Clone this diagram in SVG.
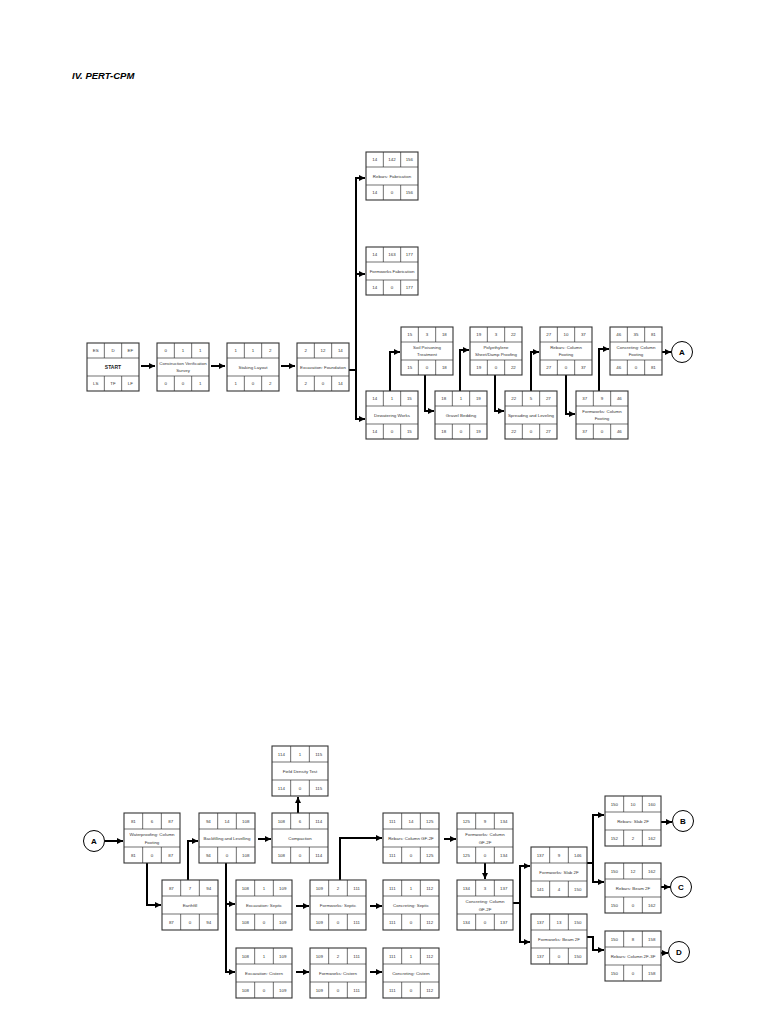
<svg xmlns="http://www.w3.org/2000/svg" xmlns:xlink="http://www.w3.org/1999/xlink" width="768" height="1024" viewBox="0 0 768 1024">
<style>
.bx{fill:#fff;stroke:#333;stroke-width:1.1}
.dv{stroke:#333;stroke-width:0.7}
.t{font-family:"Liberation Sans",Arial,sans-serif;font-size:4.4px;fill:#333;text-anchor:middle}
.tb{font-family:"Liberation Sans",Arial,sans-serif;font-size:5px;font-weight:bold;fill:#222;text-anchor:middle}
.c{fill:none;stroke:#000;stroke-width:2}
.ci{fill:#fff;stroke:#000;stroke-width:1}
.cl{font-family:"Liberation Sans",Arial,sans-serif;font-size:8px;font-weight:bold;fill:#000;text-anchor:middle}
.ttl{font-family:"Liberation Sans",Arial,sans-serif;font-size:9.5px;font-weight:bold;font-style:italic;fill:#000}
</style>
<defs>
<marker id="ah" markerWidth="6" markerHeight="6" refX="6" refY="3" orient="auto" markerUnits="userSpaceOnUse"><path d="M0,0 L6,3 L0,6 z" fill="#000"/></marker>
<g id="fs"><rect class="bx" x="0" y="0" width="52" height="48"/><line class="dv" x1="0" y1="15" x2="52" y2="15"/><line class="dv" x1="0" y1="33" x2="52" y2="33"/><line class="dv" x1="17.33" y1="0" x2="17.33" y2="15"/><line class="dv" x1="34.67" y1="0" x2="34.67" y2="15"/><line class="dv" x1="17.33" y1="33" x2="17.33" y2="48"/><line class="dv" x1="34.67" y1="33" x2="34.67" y2="48"/></g>
<g id="fl"><rect class="bx" x="0" y="0" width="56" height="50"/><line class="dv" x1="0" y1="16" x2="56" y2="16"/><line class="dv" x1="0" y1="34" x2="56" y2="34"/><line class="dv" x1="18.67" y1="0" x2="18.67" y2="16"/><line class="dv" x1="37.33" y1="0" x2="37.33" y2="16"/><line class="dv" x1="18.67" y1="34" x2="18.67" y2="50"/><line class="dv" x1="37.33" y1="34" x2="37.33" y2="50"/></g>
</defs>
<rect width="768" height="1024" fill="#fff"/>
<text class="ttl" x="72" y="79">IV. PERT-CPM</text>

<g id="connectors">
<path class="c" marker-end="url(#ah)" d="M141 366 H155"/>
<path class="c" marker-end="url(#ah)" d="M211 366 H225"/>
<path class="c" marker-end="url(#ah)" d="M281 366 H295"/>
<path class="c" d="M349 370 H356 M356 178 V419"/>
<path class="c" marker-end="url(#ah)" d="M355 178 H365"/>
<path class="c" marker-end="url(#ah)" d="M355 274 H365"/>
<path class="c" marker-end="url(#ah)" d="M355 419 H365"/>
<path class="c" marker-end="url(#ah)" d="M390 391 V352 H400"/>
<path class="c" marker-end="url(#ah)" d="M425 375 V411 H434"/>
<path class="c" marker-end="url(#ah)" d="M460 391 V350 H469"/>
<path class="c" marker-end="url(#ah)" d="M495 375 V411 H504"/>
<path class="c" marker-end="url(#ah)" d="M531 391 V352 H539"/>
<path class="c" marker-end="url(#ah)" d="M566 375 V414 H575"/>
<path class="c" marker-end="url(#ah)" d="M599 391 V349 H609"/>
<path class="c" marker-end="url(#ah)" d="M662 352 H671"/>

<path class="c" marker-end="url(#ah)" d="M105 841 H123"/>
<path class="c" marker-end="url(#ah)" d="M147 863 V905 H161"/>
<path class="c" marker-end="url(#ah)" d="M188 880 V841 H198"/>
<path class="c" marker-end="url(#ah)" d="M258 839 H271"/>
<path class="c" marker-end="url(#ah)" d="M298 813 V797"/>
<path class="c" marker-end="url(#ah)" d="M226 863 V972 H235"/>
<path class="c" marker-end="url(#ah)" d="M225 904 H235"/>
<path class="c" marker-end="url(#ah)" d="M296 906 H309"/>
<path class="c" marker-end="url(#ah)" d="M370 906 H382"/>
<path class="c" marker-end="url(#ah)" d="M340 880 V838 H382"/>
<path class="c" marker-end="url(#ah)" d="M296 972 H309"/>
<path class="c" marker-end="url(#ah)" d="M370 972 H382"/>
<path class="c" marker-end="url(#ah)" d="M444 839 H456"/>
<path class="c" marker-end="url(#ah)" d="M485 863 V879"/>
<path class="c" marker-end="url(#ah)" d="M513 903 H520 V866 H530"/>
<path class="c" marker-end="url(#ah)" d="M520 902 V942 H530"/>
<path class="c" marker-end="url(#ah)" d="M587 863 H593 V815 H604"/>
<path class="c" marker-end="url(#ah)" d="M593 862 V882 H604"/>
<path class="c" marker-end="url(#ah)" d="M587 937 H593 V950 H604"/>
<path class="c" marker-end="url(#ah)" d="M661 822 H672"/>
<path class="c" marker-end="url(#ah)" d="M661 887 H670"/>
<path class="c" marker-end="url(#ah)" d="M661 953 H668"/>
</g>

<g id="n-start" transform="translate(87,343)"><use xlink:href="#fs"/><text class="t" x="8.67" y="9.2">ES</text><text class="t" x="26" y="9.2">D</text><text class="t" x="43.33" y="9.2">EF</text><text class="tb" x="26" y="25.7">START</text><text class="t" x="8.67" y="42">LS</text><text class="t" x="26" y="42">TF</text><text class="t" x="43.33" y="42">LF</text></g>
<g id="n-cvs" transform="translate(157,343)"><use xlink:href="#fs"/><text class="t" x="8.67" y="9.2">0</text><text class="t" x="26" y="9.2">1</text><text class="t" x="43.33" y="9.2">1</text><text class="t" x="26" y="21.8">Construction Verification</text><text class="t" x="26" y="29">Survey</text><text class="t" x="8.67" y="42">0</text><text class="t" x="26" y="42">0</text><text class="t" x="43.33" y="42">1</text></g>
<g id="n-staking" transform="translate(227,343)"><use xlink:href="#fs"/><text class="t" x="8.67" y="9.2">1</text><text class="t" x="26" y="9.2">1</text><text class="t" x="43.33" y="9.2">2</text><text class="t" x="26" y="25.5">Staking Layout</text><text class="t" x="8.67" y="42">1</text><text class="t" x="26" y="42">0</text><text class="t" x="43.33" y="42">2</text></g>
<g id="n-excfound" transform="translate(297,343)"><use xlink:href="#fs"/><text class="t" x="8.67" y="9.2">2</text><text class="t" x="26" y="9.2">12</text><text class="t" x="43.33" y="9.2">14</text><text class="t" x="26" y="25.5">Excavation: Foundation</text><text class="t" x="8.67" y="42">2</text><text class="t" x="26" y="42">0</text><text class="t" x="43.33" y="42">14</text></g>
<g id="n-rebfab" transform="translate(366,152)"><use xlink:href="#fs"/><text class="t" x="8.67" y="9.2">14</text><text class="t" x="26" y="9.2">142</text><text class="t" x="43.33" y="9.2">156</text><text class="t" x="26" y="25.5">Rebars: Fabrication</text><text class="t" x="8.67" y="42">14</text><text class="t" x="26" y="42">0</text><text class="t" x="43.33" y="42">156</text></g>
<g id="n-formfab" transform="translate(366,247)"><use xlink:href="#fs"/><text class="t" x="8.67" y="9.2">14</text><text class="t" x="26" y="9.2">163</text><text class="t" x="43.33" y="9.2">177</text><text class="t" x="26" y="25.5">Formworks Fabrication</text><text class="t" x="8.67" y="42">14</text><text class="t" x="26" y="42">0</text><text class="t" x="43.33" y="42">177</text></g>
<g id="n-soil" transform="translate(401,327)"><use xlink:href="#fs"/><text class="t" x="8.67" y="9.2">15</text><text class="t" x="26" y="9.2">3</text><text class="t" x="43.33" y="9.2">18</text><text class="t" x="26" y="21.8">Soil Poisoning</text><text class="t" x="26" y="29">Treatment</text><text class="t" x="8.67" y="42">15</text><text class="t" x="26" y="42">0</text><text class="t" x="43.33" y="42">18</text></g>
<g id="n-dewater" transform="translate(366,391)"><use xlink:href="#fs"/><text class="t" x="8.67" y="9.2">14</text><text class="t" x="26" y="9.2">1</text><text class="t" x="43.33" y="9.2">15</text><text class="t" x="26" y="25.5">Dewatering Works</text><text class="t" x="8.67" y="42">14</text><text class="t" x="26" y="42">0</text><text class="t" x="43.33" y="42">15</text></g>
<g id="n-poly" transform="translate(470,327)"><use xlink:href="#fs"/><text class="t" x="8.67" y="9.2">19</text><text class="t" x="26" y="9.2">3</text><text class="t" x="43.33" y="9.2">22</text><text class="t" x="26" y="21.8">Polyethylene</text><text class="t" x="26" y="29">Sheet/Damp Proofing</text><text class="t" x="8.67" y="42">19</text><text class="t" x="26" y="42">0</text><text class="t" x="43.33" y="42">22</text></g>
<g id="n-gravel" transform="translate(435,391)"><use xlink:href="#fs"/><text class="t" x="8.67" y="9.2">18</text><text class="t" x="26" y="9.2">1</text><text class="t" x="43.33" y="9.2">19</text><text class="t" x="26" y="25.5">Gravel Bedding</text><text class="t" x="8.67" y="42">18</text><text class="t" x="26" y="42">0</text><text class="t" x="43.33" y="42">19</text></g>
<g id="n-spread" transform="translate(505,391)"><use xlink:href="#fs"/><text class="t" x="8.67" y="9.2">22</text><text class="t" x="26" y="9.2">5</text><text class="t" x="43.33" y="9.2">27</text><text class="t" x="26" y="25.5">Spreading and Leveling</text><text class="t" x="8.67" y="42">22</text><text class="t" x="26" y="42">0</text><text class="t" x="43.33" y="42">27</text></g>
<g id="n-rebcf" transform="translate(540,327)"><use xlink:href="#fs"/><text class="t" x="8.67" y="9.2">27</text><text class="t" x="26" y="9.2">10</text><text class="t" x="43.33" y="9.2">37</text><text class="t" x="26" y="21.8">Rebars: Column</text><text class="t" x="26" y="29">Footing</text><text class="t" x="8.67" y="42">27</text><text class="t" x="26" y="42">0</text><text class="t" x="43.33" y="42">37</text></g>
<g id="n-formcf" transform="translate(576,391)"><use xlink:href="#fs"/><text class="t" x="8.67" y="9.2">37</text><text class="t" x="26" y="9.2">9</text><text class="t" x="43.33" y="9.2">46</text><text class="t" x="26" y="21.8">Formworks: Column</text><text class="t" x="26" y="29">Footing</text><text class="t" x="8.67" y="42">37</text><text class="t" x="26" y="42">0</text><text class="t" x="43.33" y="42">46</text></g>
<g id="n-conccf" transform="translate(610,327)"><use xlink:href="#fs"/><text class="t" x="8.67" y="9.2">46</text><text class="t" x="26" y="9.2">35</text><text class="t" x="43.33" y="9.2">81</text><text class="t" x="26" y="21.8">Concreting: Column</text><text class="t" x="26" y="29">Footing</text><text class="t" x="8.67" y="42">46</text><text class="t" x="26" y="42">0</text><text class="t" x="43.33" y="42">81</text></g>
<g id="n-a1"><circle class="ci" cx="682" cy="352" r="10.5"/><text class="cl" x="682" y="355">A</text></g>

<g id="n-a2"><circle class="ci" cx="94" cy="841" r="10.5"/><text class="cl" x="94" y="844">A</text></g>
<g id="n-waterp" transform="translate(124,813)"><use xlink:href="#fl"/><text class="t" x="9.33" y="9.6">81</text><text class="t" x="28" y="9.6">6</text><text class="t" x="46.67" y="9.6">87</text><text class="t" x="28" y="23">Waterproofing: Column</text><text class="t" x="28" y="30.5">Footing</text><text class="t" x="9.33" y="43.6">81</text><text class="t" x="28" y="43.6">0</text><text class="t" x="46.67" y="43.6">87</text></g>
<g id="n-earth" transform="translate(162,880)"><use xlink:href="#fl"/><text class="t" x="9.33" y="9.6">87</text><text class="t" x="28" y="9.6">7</text><text class="t" x="46.67" y="9.6">94</text><text class="t" x="28" y="26.5">Earthfill</text><text class="t" x="9.33" y="43.6">87</text><text class="t" x="28" y="43.6">0</text><text class="t" x="46.67" y="43.6">94</text></g>
<g id="n-backfill" transform="translate(199,813)"><use xlink:href="#fl"/><text class="t" x="9.33" y="9.6">94</text><text class="t" x="28" y="9.6">14</text><text class="t" x="46.67" y="9.6">108</text><text class="t" x="28" y="26.5">Backfilling and Levelling</text><text class="t" x="9.33" y="43.6">94</text><text class="t" x="28" y="43.6">0</text><text class="t" x="46.67" y="43.6">108</text></g>
<g id="n-compact" transform="translate(272,813)"><use xlink:href="#fl"/><text class="t" x="9.33" y="9.6">108</text><text class="t" x="28" y="9.6">6</text><text class="t" x="46.67" y="9.6">114</text><text class="t" x="28" y="26.5">Compaction</text><text class="t" x="9.33" y="43.6">108</text><text class="t" x="28" y="43.6">0</text><text class="t" x="46.67" y="43.6">114</text></g>
<g id="n-field" transform="translate(272,746)"><use xlink:href="#fl"/><text class="t" x="9.33" y="9.6">114</text><text class="t" x="28" y="9.6">1</text><text class="t" x="46.67" y="9.6">115</text><text class="t" x="28" y="26.5">Field Density Test</text><text class="t" x="9.33" y="43.6">114</text><text class="t" x="28" y="43.6">0</text><text class="t" x="46.67" y="43.6">115</text></g>
<g id="n-excsep" transform="translate(236,880)"><use xlink:href="#fl"/><text class="t" x="9.33" y="9.6">108</text><text class="t" x="28" y="9.6">1</text><text class="t" x="46.67" y="9.6">109</text><text class="t" x="28" y="26.5">Excavation: Septic</text><text class="t" x="9.33" y="43.6">108</text><text class="t" x="28" y="43.6">0</text><text class="t" x="46.67" y="43.6">109</text></g>
<g id="n-formsep" transform="translate(310,880)"><use xlink:href="#fl"/><text class="t" x="9.33" y="9.6">109</text><text class="t" x="28" y="9.6">2</text><text class="t" x="46.67" y="9.6">111</text><text class="t" x="28" y="26.5">Formworks: Septic</text><text class="t" x="9.33" y="43.6">109</text><text class="t" x="28" y="43.6">0</text><text class="t" x="46.67" y="43.6">111</text></g>
<g id="n-concsep" transform="translate(383,880)"><use xlink:href="#fl"/><text class="t" x="9.33" y="9.6">111</text><text class="t" x="28" y="9.6">1</text><text class="t" x="46.67" y="9.6">112</text><text class="t" x="28" y="26.5">Concreting: Septic</text><text class="t" x="9.33" y="43.6">111</text><text class="t" x="28" y="43.6">0</text><text class="t" x="46.67" y="43.6">112</text></g>
<g id="n-exccis" transform="translate(236,948)"><use xlink:href="#fl"/><text class="t" x="9.33" y="9.6">108</text><text class="t" x="28" y="9.6">1</text><text class="t" x="46.67" y="9.6">109</text><text class="t" x="28" y="26.5">Excavation: Cistern</text><text class="t" x="9.33" y="43.6">108</text><text class="t" x="28" y="43.6">0</text><text class="t" x="46.67" y="43.6">109</text></g>
<g id="n-formcis" transform="translate(310,948)"><use xlink:href="#fl"/><text class="t" x="9.33" y="9.6">109</text><text class="t" x="28" y="9.6">2</text><text class="t" x="46.67" y="9.6">111</text><text class="t" x="28" y="26.5">Formworks: Cistern</text><text class="t" x="9.33" y="43.6">109</text><text class="t" x="28" y="43.6">0</text><text class="t" x="46.67" y="43.6">111</text></g>
<g id="n-conccis" transform="translate(383,948)"><use xlink:href="#fl"/><text class="t" x="9.33" y="9.6">111</text><text class="t" x="28" y="9.6">1</text><text class="t" x="46.67" y="9.6">112</text><text class="t" x="28" y="26.5">Concreting: Cistern</text><text class="t" x="9.33" y="43.6">111</text><text class="t" x="28" y="43.6">0</text><text class="t" x="46.67" y="43.6">112</text></g>
<g id="n-rebgf" transform="translate(383,813)"><use xlink:href="#fl"/><text class="t" x="9.33" y="9.6">111</text><text class="t" x="28" y="9.6">14</text><text class="t" x="46.67" y="9.6">125</text><text class="t" x="28" y="26.5">Rebars: Column GF-2F</text><text class="t" x="9.33" y="43.6">111</text><text class="t" x="28" y="43.6">0</text><text class="t" x="46.67" y="43.6">125</text></g>
<g id="n-formgf" transform="translate(457,813)"><use xlink:href="#fl"/><text class="t" x="9.33" y="9.6">125</text><text class="t" x="28" y="9.6">9</text><text class="t" x="46.67" y="9.6">134</text><text class="t" x="28" y="23">Formworks: Column</text><text class="t" x="28" y="30.5">GF-2F</text><text class="t" x="9.33" y="43.6">125</text><text class="t" x="28" y="43.6">0</text><text class="t" x="46.67" y="43.6">134</text></g>
<g id="n-concgf" transform="translate(457,880)"><use xlink:href="#fl"/><text class="t" x="9.33" y="9.6">134</text><text class="t" x="28" y="9.6">3</text><text class="t" x="46.67" y="9.6">137</text><text class="t" x="28" y="23">Concreting: Column</text><text class="t" x="28" y="30.5">GF-2F</text><text class="t" x="9.33" y="43.6">134</text><text class="t" x="28" y="43.6">0</text><text class="t" x="46.67" y="43.6">137</text></g>
<g id="n-formslab" transform="translate(531,847)"><use xlink:href="#fl"/><text class="t" x="9.33" y="9.6">137</text><text class="t" x="28" y="9.6">9</text><text class="t" x="46.67" y="9.6">146</text><text class="t" x="28" y="26.5">Formworks: Slab 2F</text><text class="t" x="9.33" y="43.6">141</text><text class="t" x="28" y="43.6">4</text><text class="t" x="46.67" y="43.6">150</text></g>
<g id="n-formbeam" transform="translate(531,914)"><use xlink:href="#fl"/><text class="t" x="9.33" y="9.6">137</text><text class="t" x="28" y="9.6">13</text><text class="t" x="46.67" y="9.6">150</text><text class="t" x="28" y="26.5">Formworks: Beam 2F</text><text class="t" x="9.33" y="43.6">137</text><text class="t" x="28" y="43.6">0</text><text class="t" x="46.67" y="43.6">150</text></g>
<g id="n-rebslab" transform="translate(605,796)"><use xlink:href="#fl"/><text class="t" x="9.33" y="9.6">150</text><text class="t" x="28" y="9.6">10</text><text class="t" x="46.67" y="9.6">160</text><text class="t" x="28" y="26.5">Rebars: Slab 2F</text><text class="t" x="9.33" y="43.6">152</text><text class="t" x="28" y="43.6">2</text><text class="t" x="46.67" y="43.6">162</text></g>
<g id="n-rebbeam" transform="translate(605,863)"><use xlink:href="#fl"/><text class="t" x="9.33" y="9.6">150</text><text class="t" x="28" y="9.6">12</text><text class="t" x="46.67" y="9.6">162</text><text class="t" x="28" y="26.5">Rebars: Beam 2F</text><text class="t" x="9.33" y="43.6">150</text><text class="t" x="28" y="43.6">0</text><text class="t" x="46.67" y="43.6">162</text></g>
<g id="n-rebcol" transform="translate(605,931)"><use xlink:href="#fl"/><text class="t" x="9.33" y="9.6">150</text><text class="t" x="28" y="9.6">8</text><text class="t" x="46.67" y="9.6">158</text><text class="t" x="28" y="26.5">Rebars: Column 2F-3F</text><text class="t" x="9.33" y="43.6">150</text><text class="t" x="28" y="43.6">0</text><text class="t" x="46.67" y="43.6">158</text></g>
<g id="n-b"><circle class="ci" cx="683" cy="821" r="10.5"/><text class="cl" x="683" y="824">B</text></g>
<g id="n-c"><circle class="ci" cx="681" cy="887" r="10.5"/><text class="cl" x="681" y="890">C</text></g>
<g id="n-d"><circle class="ci" cx="679" cy="952" r="10.5"/><text class="cl" x="679" y="955">D</text></g>
</svg>
